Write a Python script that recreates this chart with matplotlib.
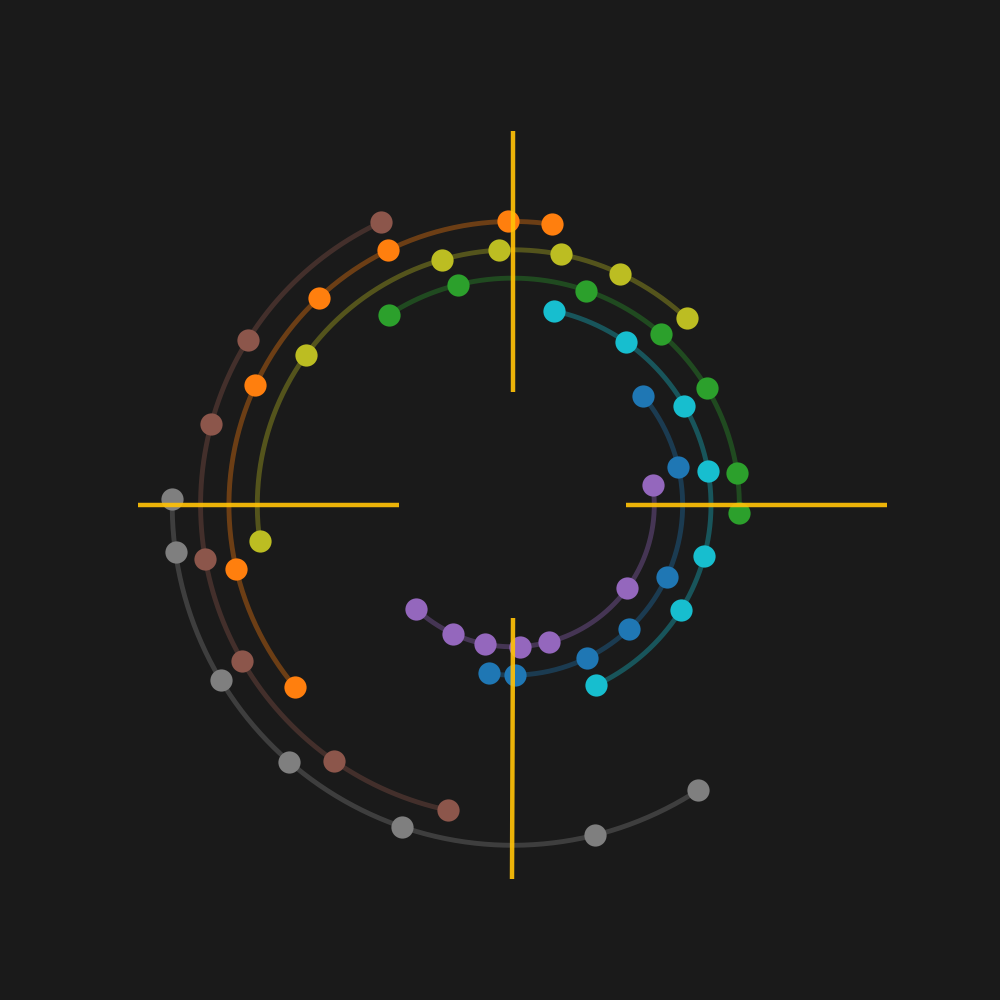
import numpy as np
import matplotlib
matplotlib.use("Agg")
import matplotlib.pyplot as plt

BG = "#1a1a1a"
CROSS = "#FFC107"

# ring radius of each series (inner -> outer)
series_names = ["purple", "blue", "cyan", "green", "olive", "orange", "brown", "gray"]
radii = [5, 6, 7, 8, 9, 10, 11, 12]
colors = ["#9467bd", "#1f77b4", "#17becf", "#2ca02c",
          "#bcbd22", "#ff7f0e", "#8c564b", "#7f7f7f"]

# point angles in degrees, counter-clockwise from east
ang_purple = [8, -36, -75, -87, -101, -115, -133]
ang_blue   = [40, 13, -25, -47, -64, -89, -98]
ang_cyan   = [78, 55, 30, 10, -15, -32, -65]
ang_green  = [123, 104, 71, 49, 31, 8, -2]
ang_olive  = [188, 144, 106, 93, 79, 65, 47]
ang_orange = [220, 193, 155, 133, 116, 91, 82]
ang_brown  = [258, 235, 210, 190, 165, 148, 115]
ang_gray   = [179, 188, 211, 229, 251, 284, 303]

angles = [ang_purple, ang_blue, ang_cyan, ang_green,
          ang_olive, ang_orange, ang_brown, ang_gray]

# yellow cross: radial segments
cross_angles = [0, 90, 180, 270]
cross_r = [4, 13.2]

fig = plt.figure(figsize=(10, 10), dpi=100, facecolor=BG)
ax = fig.add_axes([0.1155, 0.098, 0.794, 0.794], projection="polar")
ax.set_facecolor(BG)

for r, ang, c in zip(radii, angles, colors):
    th = np.deg2rad(ang)
    # arc through the points, from the first angle to the last
    arc = np.linspace(th[0], th[-1], 300)
    ax.plot(arc, np.full(arc.size, r), color=c, alpha=0.36, linewidth=3.5,
            zorder=2, solid_capstyle="round")
    ax.plot(th, np.full(th.size, r), linestyle="none", marker="o",
            markersize=16, markerfacecolor=c, markeredgewidth=0, zorder=3)

for a in cross_angles:
    t = np.deg2rad(a)
    ax.plot([t, t], cross_r, color=CROSS, linewidth=3.2, alpha=0.92,
            zorder=4, solid_capstyle="butt")

ax.set_ylim(0, 14)
ax.grid(False)
ax.set_xticks([])
ax.set_yticks([])
ax.spines["polar"].set_visible(False)

fig.savefig("out.png", dpi=100, facecolor=BG)
